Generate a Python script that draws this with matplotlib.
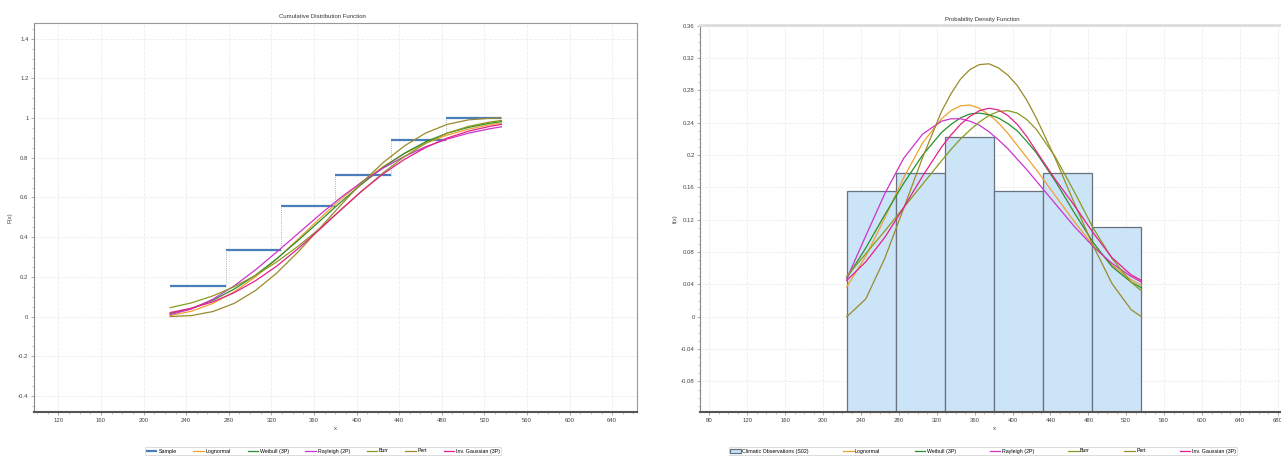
import matplotlib
matplotlib.use("Agg")
import matplotlib.pyplot as plt
from matplotlib.ticker import MultipleLocator, AutoMinorLocator, FormatStrFormatter

plt.rcParams['font.family'] = ['Liberation Sans Narrow', 'Liberation Sans', 'DejaVu Sans']

# histogram bins and sample frequencies (45 observations)
bin_edges = [225, 277, 329, 380, 432, 484, 536]
freq = [0.1556, 0.1778, 0.2222, 0.1556, 0.1778, 0.1111]
cdf_steps = [0.1556, 0.3333, 0.5556, 0.7111, 0.8889, 1.0]

names = ["Lognormal", "Weibull (3P)", "Rayleigh (2P)", "Burr", "Pert", "Inv. Gaussian (3P)"]
colors = ["#f0a030", "#2a8f2a", "#cc33cc", "#8a9a20", "#9a8a2a", "#e6208a"]

# fitted CDFs, read at these x
xs_cdf = [225, 245, 265, 285, 305, 325, 345, 365, 385, 405, 425, 445, 465, 485, 505, 525, 536]
cdf_lognormal = [0.005, 0.027, 0.066, 0.124, 0.200, 0.290, 0.390, 0.492, 0.590, 0.678, 0.756, 0.821, 0.874, 0.914, 0.944, 0.966, 0.975]
cdf_weibull = [0.015, 0.041, 0.082, 0.138, 0.208, 0.291, 0.383, 0.479, 0.576, 0.668, 0.752, 0.823, 0.881, 0.924, 0.953, 0.974, 0.982]
cdf_rayleigh = [0.010, 0.038, 0.087, 0.154, 0.235, 0.325, 0.418, 0.511, 0.599, 0.678, 0.748, 0.807, 0.856, 0.894, 0.924, 0.946, 0.956]
cdf_burr = [0.045, 0.069, 0.104, 0.150, 0.207, 0.275, 0.354, 0.442, 0.536, 0.632, 0.724, 0.806, 0.873, 0.924, 0.958, 0.980, 0.988]
cdf_pert = [0.000, 0.005, 0.025, 0.066, 0.131, 0.219, 0.325, 0.442, 0.561, 0.675, 0.776, 0.860, 0.925, 0.968, 0.991, 0.999, 1.000]
cdf_invgauss = [0.020, 0.042, 0.074, 0.120, 0.180, 0.254, 0.342, 0.437, 0.537, 0.633, 0.719, 0.792, 0.852, 0.899, 0.934, 0.958, 0.968]

# fitted PDFs (scaled to the histogram), read at these x
xs_pdf = [225, 245, 265, 285, 305, 325, 335, 345, 355, 365, 375, 385, 395, 405, 415, 425, 445, 465, 485, 505, 525, 536]
pdf_lognormal = [0.037, 0.075, 0.122, 0.172, 0.215, 0.245, 0.255, 0.261, 0.262, 0.258, 0.250, 0.240, 0.227, 0.212, 0.197, 0.182, 0.150, 0.118, 0.088, 0.064, 0.046, 0.039]
pdf_weibull = [0.048, 0.085, 0.126, 0.165, 0.200, 0.228, 0.238, 0.246, 0.251, 0.252, 0.250, 0.246, 0.239, 0.230, 0.217, 0.203, 0.168, 0.129, 0.092, 0.062, 0.043, 0.036]
pdf_rayleigh = [0.047, 0.100, 0.152, 0.196, 0.226, 0.242, 0.245, 0.245, 0.242, 0.237, 0.229, 0.219, 0.208, 0.195, 0.182, 0.168, 0.140, 0.112, 0.087, 0.066, 0.050, 0.043]
pdf_burr = [0.050, 0.078, 0.106, 0.135, 0.164, 0.193, 0.207, 0.220, 0.231, 0.241, 0.249, 0.254, 0.255, 0.252, 0.244, 0.232, 0.198, 0.155, 0.110, 0.072, 0.043, 0.032]
pdf_pert = [0.000, 0.022, 0.072, 0.134, 0.197, 0.254, 0.276, 0.294, 0.306, 0.312, 0.313, 0.308, 0.299, 0.286, 0.268, 0.246, 0.196, 0.141, 0.088, 0.041, 0.009, 0.000]
pdf_invgauss = [0.045, 0.068, 0.098, 0.135, 0.174, 0.210, 0.225, 0.238, 0.248, 0.255, 0.258, 0.256, 0.249, 0.238, 0.223, 0.205, 0.170, 0.138, 0.104, 0.073, 0.052, 0.045]

cdfs = [cdf_lognormal, cdf_weibull, cdf_rayleigh, cdf_burr, cdf_pert, cdf_invgauss]
pdfs = [pdf_lognormal, pdf_weibull, pdf_rayleigh, pdf_burr, pdf_pert, pdf_invgauss]

fs = 4.3
fig = plt.figure(figsize=(12.81, 4.57), dpi=100)


def style_axes(ax, top_color, top_lw):
    ax.grid(True, which='major', color='#ececec', lw=0.6, ls='--')
    ax.set_axisbelow(True)
    ax.xaxis.set_minor_locator(AutoMinorLocator(4))
    ax.yaxis.set_minor_locator(AutoMinorLocator(4))
    ax.yaxis.set_major_formatter(FormatStrFormatter('%g'))
    ax.tick_params(which='major', direction='out', length=2.5, width=0.5, color='#888888',
                   labelsize=fs, labelcolor='#444444', pad=1.5)
    ax.tick_params(which='minor', direction='out', length=1.5, width=0.4, color='#999999')
    ax.spines['left'].set_color('#888888')
    ax.spines['left'].set_linewidth(0.8)
    ax.spines['bottom'].set_color('#555555')
    ax.spines['bottom'].set_linewidth(1.5)
    ax.spines['top'].set_color(top_color)
    ax.spines['top'].set_linewidth(top_lw)
    ax.spines['right'].set_color(top_color)
    ax.spines['right'].set_linewidth(top_lw)


def add_legend(ax, handles, x0, x1, ax_x0, ax_w, ax_bottom, ax_h):
    leg = ax.legend(handles=handles, loc='center',
                    bbox_to_anchor=((x0 - ax_x0) / ax_w, (ax_bottom - 451) / ax_h - 0.012, (x1 - x0) / ax_w, 0.024),
                    mode='expand', ncol=7, fontsize=3.8, handlelength=2.0, handletextpad=0.3,
                    frameon=True, fancybox=False, borderpad=0.25, borderaxespad=0)
    leg.get_frame().set_edgecolor('#cccccc')
    leg.get_frame().set_linewidth(0.6)
    return leg


# ---- Cumulative Distribution Function ----
ax1 = fig.add_axes([34 / 1281, 1 - 412 / 457, (637 - 34) / 1281, (412 - 23) / 457])
style_axes(ax1, '#999999', 0.8)
ax1.set_xlim(97.1, 663.3)
ax1.set_ylim(-0.481, 1.479)
ax1.xaxis.set_major_locator(MultipleLocator(40))
ax1.yaxis.set_major_locator(MultipleLocator(0.2))

h_sample = ax1.hlines(cdf_steps, bin_edges[:-1], bin_edges[1:], color='#4a7ebb', lw=1.6, label='Sample', zorder=2)
ax1.vlines(bin_edges[1:-1], cdf_steps[:-1], cdf_steps[1:], color='#8a9aac', lw=0.6, linestyles=':', zorder=2)
lines1 = []
for name, col, ys in zip(names, colors, cdfs):
    ln, = ax1.plot(xs_cdf, ys, color=col, lw=0.9, label=name, zorder=3)
    lines1.append(ln)

ax1.set_xlabel('x', fontsize=fs, color='#444444')
ax1.xaxis.set_label_coords(0.5, -0.036)
ax1.set_ylabel('F(x)', fontsize=fs, color='#444444')
ax1.yaxis.set_label_coords(-0.035, 0.5)
fig.text(322 / 1281, 1 - 16 / 457, 'Cumulative Distribution Function', fontsize=fs,
         color='#333333', ha='center', va='center')
add_legend(ax1, [h_sample] + lines1, 145, 501, 34, 603, 412, 389)

# ---- Probability Density Function ----
ax2 = fig.add_axes([700.4 / 1281, 1 - 412 / 457, (1288 - 700.4) / 1281, (412 - 25) / 457])
style_axes(ax2, '#dddddd', 2.0)
ax2.spines['right'].set_visible(False)
ax2.set_xlim(70.5, 690.7)
ax2.set_ylim(-0.1178, 0.361)
ax2.xaxis.set_major_locator(MultipleLocator(40))
ax2.yaxis.set_major_locator(MultipleLocator(0.04))

ymin = ax2.get_ylim()[0]
widths = [b - a for a, b in zip(bin_edges[:-1], bin_edges[1:])]
heights = [f - ymin for f in freq]
h_bars = ax2.bar(bin_edges[:-1], heights, width=widths, bottom=ymin, align='edge', color='#cce4f7',
                 edgecolor='#66727f', lw=0.9, label='Climatic Observations (S02)', zorder=2)
lines2 = []
for name, col, ys in zip(names, colors, pdfs):
    ln, = ax2.plot(xs_pdf, ys, color=col, lw=0.9, label=name, zorder=3)
    lines2.append(ln)

ax2.set_xlabel('x', fontsize=fs, color='#444444')
ax2.xaxis.set_label_coords(0.5, -0.036)
ax2.set_ylabel('f(x)', fontsize=fs, color='#444444')
ax2.yaxis.set_label_coords(-0.038, 0.5)
fig.text(982 / 1281, 1 - 19 / 457, 'Probability Density Function', fontsize=fs,
         color='#333333', ha='center', va='center')
add_legend(ax2, [h_bars] + lines2, 729, 1237, 700.4, 587.6, 412, 387)

fig.savefig('out.png', dpi=100)
